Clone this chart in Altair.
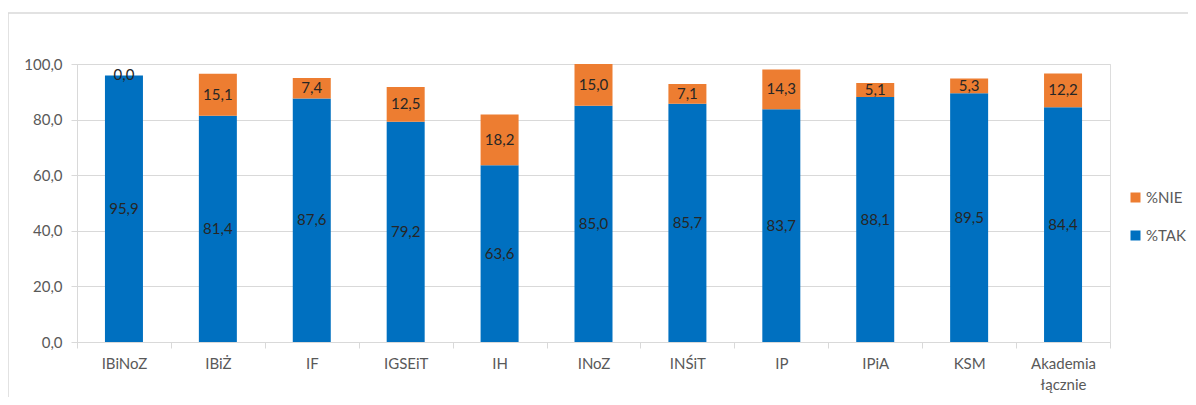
import altair as alt
import pandas as pd

categories = ["IBiNoZ", "IBiŻ", "IF", "IGSEiT", "IH", "INoZ", "INŚiT", "IP", "IPiA", "KSM", "Akademia łącznie"]
tak = [95.9, 81.4, 87.6, 79.2, 63.6, 85.0, 85.7, 83.7, 88.1, 89.5, 84.4]
nie = [0.0, 15.1, 7.4, 12.5, 18.2, 15.0, 7.1, 14.3, 5.1, 5.3, 12.2]
series = ["%TAK", "%NIE"]

rows = []
for c, t, n in zip(categories, tak, nie):
    rows.append({"cat": c, "series": "%TAK", "value": t, "ord": 0})
    rows.append({"cat": c, "series": "%NIE", "value": n, "ord": 1})
df = pd.DataFrame(rows)

FONT = "Lato"
GRAY = "#595959"
LINE = "#d9d9d9"
FS = 15

base = alt.Chart(df).transform_stack(
    stack="value", groupby=["cat"], as_=["v0", "v1"], sort=[alt.SortField("ord")]
).transform_calculate(
    mid="(datum.v0 + datum.v1) / 2",
    lab="replace(format(datum.value, '.1f'), '.', ',')"
)

xenc = alt.X("cat:N", sort=categories, title=None,
             scale=alt.Scale(paddingInner=0, paddingOuter=0),
             axis=alt.Axis(labelAngle=0, labelColor=GRAY, labelFontSize=FS, labelFont=FONT,
                           tickBand="extent", tickSize=6, tickColor=LINE, domainColor=LINE,
                           labelPadding=8, labelLineHeight=21,
                           labelExpr="datum.label == 'Akademia łącznie' ? ['Akademia', 'łącznie'] : datum.label"))

bars = base.mark_bar(size=38).encode(
    x=xenc,
    y=alt.Y("v0:Q", title=None,
            scale=alt.Scale(domain=[0, 100], nice=False),
            axis=alt.Axis(values=[0, 20, 40, 60, 80, 100], labelColor=GRAY, labelFontSize=FS,
                          labelFont=FONT, gridColor=LINE, tickColor=LINE, domainColor=LINE,
                          tickSize=6, labelPadding=9,
                          labelExpr="replace(format(datum.value, '.1f'), '.', ',')")),
    y2="v1:Q",
    color=alt.Color("series:N", scale=alt.Scale(domain=["%NIE", "%TAK"], range=["#ED7D31", "#0070C0"]),
                    legend=alt.Legend(title=None, orient="none", legendX=1051, legendY=126,
                                      symbolType="square", symbolSize=100, labelFontSize=FS,
                                      labelFont=FONT, labelColor=GRAY, rowPadding=22, padding=0,
                                      labelOffset=3)),
)

texts = base.mark_text(fontSize=FS, font=FONT, color="#262626", baseline="middle").encode(
    x=alt.X("cat:N", sort=categories),
    y="mid:Q",
    text="lab:N",
)

frame = alt.Chart(pd.DataFrame({"a": [0]})).mark_rect(fill=None, stroke=LINE, strokeWidth=1.5).encode(
    x=alt.value(-69), x2=alt.value(1200), y=alt.value(-51), y2=alt.value(420)
)

chart = alt.layer(frame, bars, texts).properties(
    width=1033, height=278,
    autosize=alt.AutoSizeParams(type="none"),
    padding={"left": 69, "top": 56, "right": 78, "bottom": 55},
).configure_view(stroke=None).configure(font=FONT)

chart.save("out.html", embed_options={"renderer": "svg", "actions": False})
